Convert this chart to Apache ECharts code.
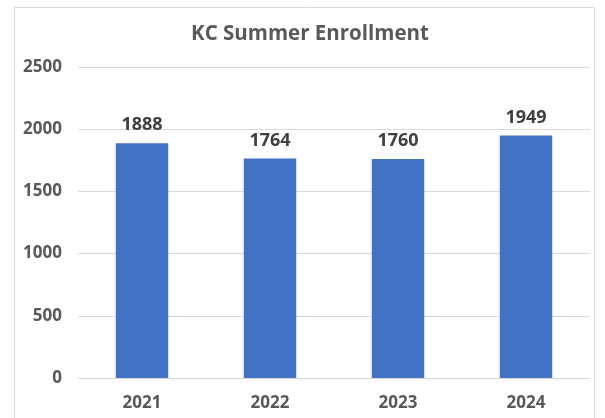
<!DOCTYPE html>
<html><head><meta charset="utf-8">
<script src="https://cdn.jsdelivr.net/npm/echarts@6/dist/echarts.min.js"></script>
<style>html,body{margin:0;padding:0;background:#fff}#c{width:605px;height:418px}</style>
</head><body><div id="c"></div>
<script>
const categories = ['2021', '2022', '2023', '2024'];
const enrollment = [1888, 1764, 1760, 1949];
const yTicks = [0, 500, 1000, 1500, 2000, 2500];
const titleText = 'KC Summer Enrollment';

const font = '"Open Sans", Lato, sans-serif';
const chart = echarts.init(document.getElementById('c'), null, {renderer: 'canvas'});
chart.setOption({
  animation: false,
  backgroundColor: '#fff',
  graphic: [{type: 'rect', shape: {x: 14.5, y: 7.5, width: 580, height: 420},
    style: {fill: 'none', stroke: '#d9d9d9', lineWidth: 1}, silent: true}],
  title: {text: titleText, left: 305, top: 19, textAlign: 'center',
    textStyle: {fontFamily: font, fontSize: 20.5, fontWeight: 'bold', color: '#595959'}},
  grid: {left: 78, right: 15, top: 67, bottom: 40, containLabel: false},
  xAxis: {type: 'category', data: categories,
    axisLine: {show: true, lineStyle: {color: '#d9d9d9'}}, axisTick: {show: false},
    axisLabel: {fontFamily: font, fontSize: 17, fontWeight: 'bold', color: '#595959', margin: 17}},
  yAxis: {type: 'value', min: yTicks[0], max: yTicks[yTicks.length - 1], interval: 500,
    axisLine: {show: false}, axisTick: {show: false},
    splitLine: {lineStyle: {color: '#d9d9d9', width: 1}},
    axisLabel: {fontFamily: font, fontSize: 17, fontWeight: 'bold', color: '#595959', margin: 16,
      formatter: v => String(v)}},
  series: [{type: 'bar', data: enrollment, barWidth: '41%',
    itemStyle: {color: '#4472C4'},
    label: {show: true, position: 'top', distance: 9, fontFamily: font, fontSize: 18,
      fontWeight: 'bold', color: '#404040'}}]
});
</script></body></html>
